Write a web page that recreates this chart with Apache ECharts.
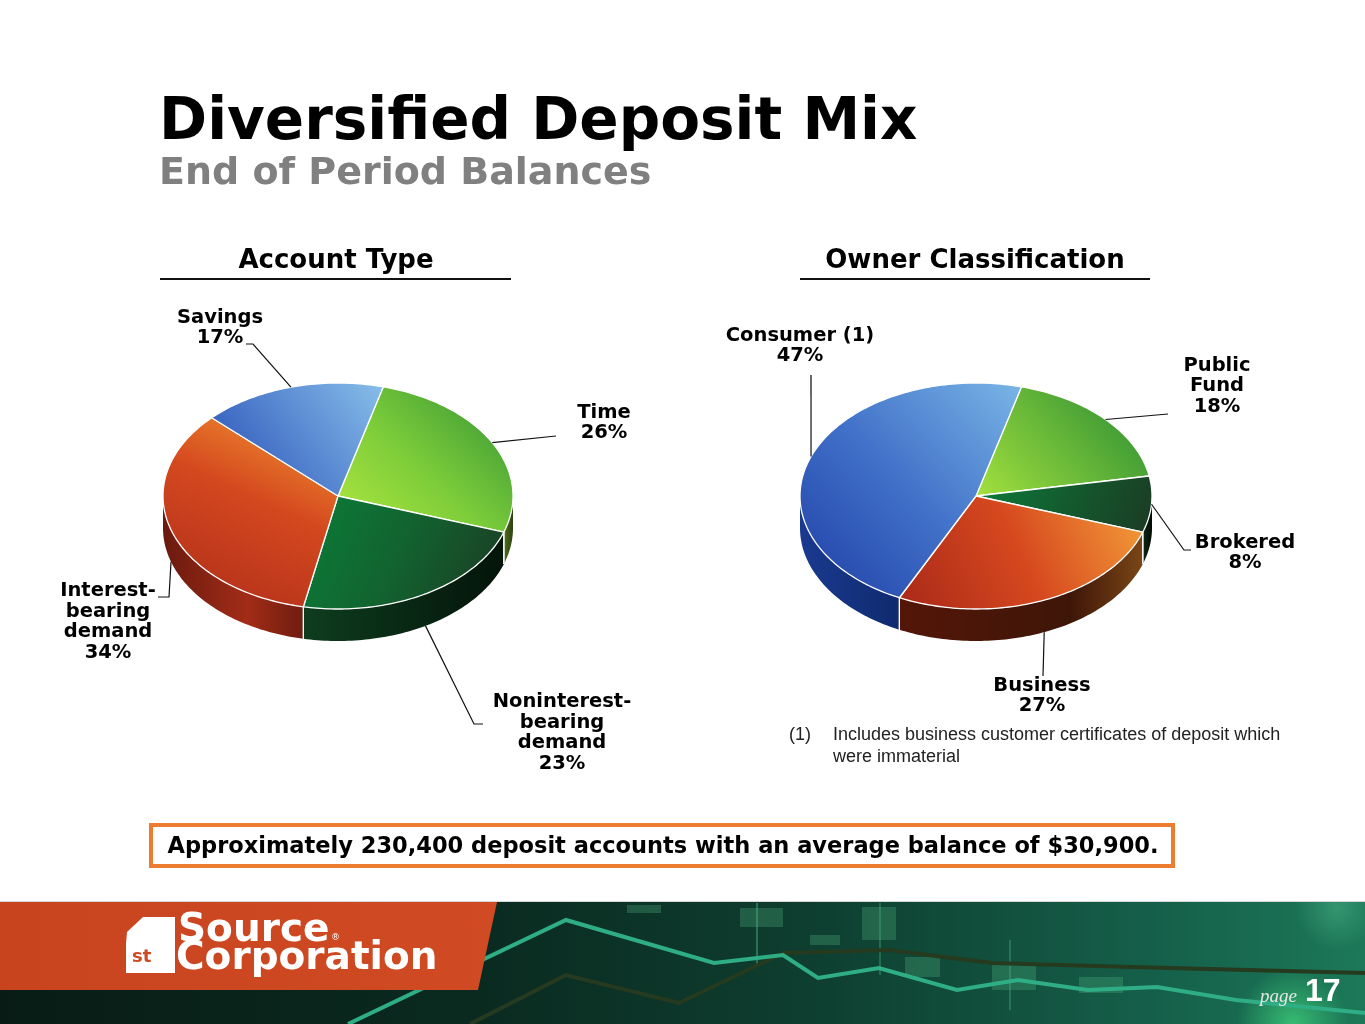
<!DOCTYPE html>
<html><head><meta charset="utf-8">
<script src="https://cdn.jsdelivr.net/npm/echarts@6/dist/echarts.min.js"></script>
<style>html,body{margin:0;padding:0;background:#fff}#c{width:1365px;height:1024px}</style>
</head><body><div id="c"></div>
<script>
// ---- data ----
const accountCategories = ['Time', 'Noninterest-\nbearing\ndemand', 'Interest-\nbearing\ndemand', 'Savings'];
const accountValues = [26, 23, 34, 17];
const ownerCategories = ['Public\nFund', 'Brokered', 'Business', 'Consumer (1)'];
const ownerValues = [18, 8, 27, 47];

// ---- layout / style (not data) ----
const LBL_FONT = 'bold 19.5px "DejaVu Sans"';
const lin = (x, y, x2, y2, stops) => ({type: 'linear', x, y, x2, y2, colorStops: stops.map((c) => ({offset: c[0], color: c[1]}))});
const rad = (x, y, r, stops) => ({type: 'radial', x, y, r, colorStops: stops.map((c) => ({offset: c[0], color: c[1]}))});

const leftCfg = {
  cx: 338, cy: 496, rx: 175, ry: 113, depth: 32, startAngle: 75,
  faces: [
    lin(0.8, 0, 0.1, 0.9, [[0, '#3f9c35'], [0.55, '#7ccc3a'], [1, '#a6e23e']]),
    lin(0, 0, 1, 0.8, [[0, '#0b7d39'], [0.5, '#12632f'], [1, '#1b3d25']]),
    lin(0.8, 0, 0.3, 1, [[0, '#f1902f'], [0.45, '#d4481f'], [1, '#b3301a']]),
    lin(1, 0, 0.1, 1, [[0, '#88bfea'], [1, '#2b53b9']])
  ],
  walls: [
    lin(0, 0, 1, 0, [[0, '#4f6f1c'], [1, '#2c4010']]),
    lin(0, 0, 1, 0, [[0, '#0e3d1e'], [1, '#04140a']]),
    lin(0, 0, 1, 0, [[0, '#6a1a0f'], [0.6, '#a22c17'], [1, '#6e1d10']]),
    lin(0, 0, 1, 0, [[0, '#1a3c94'], [1, '#112c72']])
  ],
  labels: [
    {wall: 0, pts: [[556, 436]], at: [604, 423]},
    {wall: 1, pts: [[474, 724], [483, 724]], at: [562, 733]},
    {wall: 1, pts: [[169, 597], [158, 597]], at: [108, 622]},
    {wall: 0, pts: [[253, 344], [246, 344]], at: [220, 328]}
  ]
};
const rightCfg = {
  cx: 976, cy: 496, rx: 176, ry: 113, depth: 32, startAngle: 75,
  faces: [
    lin(0.7, 0, 0, 1, [[0, '#3d9a35'], [1, '#a4e13e']]),
    lin(0, 0, 1, 1, [[0, '#0c7c39'], [1, '#1b3b24']]),
    lin(1, 0, 0, 1, [[0, '#f5a03a'], [0.5, '#d6491f'], [1, '#a92818']]),
    lin(1, 0, 0, 1, [[0, '#7ab6e6'], [0.5, '#4272c9'], [1, '#1e3ea6']])
  ],
  walls: [
    lin(0, 0, 1, 0, [[0, '#4f6f1c'], [1, '#2c4010']]),
    lin(0, 0, 1, 0, [[0, '#0c2a14'], [1, '#020a04']]),
    lin(0, 0, 1, 0, [[0, '#541609'], [0.7, '#3e1608'], [1, '#7a4616']]),
    lin(0, 0, 1, 0, [[0, '#1a3a90'], [1, '#0f2a6e']])
  ],
  labels: [
    {wall: 0, pts: [[1168, 414]], at: [1217, 386]},
    {wall: 0, pts: [[1184, 550], [1191, 550]], at: [1245, 553]},
    {wall: 1, pts: [[1043, 676]], at: [1042, 696]},
    {wall: 0, pts: [[811, 375]], at: [800, 346]}
  ]
};

function pie3d(values, names, cfg) {
  const total = values.reduce((a, b) => a + b, 0);
  const P = (t, dy) => [cfg.cx + cfg.rx * Math.cos(t), cfg.cy - cfg.ry * Math.sin(t) + (dy || 0)];
  const arc = (from, to, dy) => {
    const n = Math.max(2, Math.ceil(Math.abs(to - from) / 0.02));
    const out = [];
    for (let k = 0; k <= n; k++) out.push(P(from + (to - from) * k / n, dy));
    return out;
  };
  return {
    type: 'custom', coordinateSystem: 'none', silent: true, animation: false,
    data: values.map((v, i) => ({value: [v, i], name: names[i]})),
    renderItem: function (params, api) {
      const i = params.dataIndex;
      const v = api.value(0);
      let before = 0;
      for (let k = 0; k < i; k++) before += values[k];
      const a0 = (cfg.startAngle - before / total * 360) * Math.PI / 180;
      const a1 = a0 - v / total * 2 * Math.PI;
      const children = [];
      // front wall
      for (let k = -1; k <= 1; k++) {
        const lo = -Math.PI + 2 * Math.PI * k, hi = 2 * Math.PI * k;
        const b0 = Math.min(a0, hi), b1 = Math.max(a1, lo);
        if (b0 > b1 + 1e-6) {
          const pts = arc(b0, b1, 0).concat(arc(b1, b0, cfg.depth));
          children.push({type: 'polygon', z2: 1, shape: {points: pts}, style: {fill: cfg.walls[i], stroke: null}});
          [b0, b1].forEach(b => {
            if (b > lo + 1e-6 && b < hi - 1e-6) {
              const p = P(b, 0), q = P(b, cfg.depth);
              children.push({type: 'line', z2: 3, shape: {x1: p[0], y1: p[1], x2: q[0], y2: q[1]}, style: {stroke: '#ffffff', lineWidth: 1.2}});
            }
          });
        }
      }
      // top face
      const facePts = [[cfg.cx, cfg.cy]].concat(arc(a0, a1, 0));
      children.push({type: 'polygon', z2: 2, shape: {points: facePts}, style: {fill: cfg.faces[i], stroke: '#ffffff', lineWidth: 1.3, lineJoin: 'round'}});
      // leader line + label
      const L = cfg.labels[i];
      const mid = (a0 + a1) / 2;
      const anchor = P(mid, L.wall * cfg.depth);
      children.push({type: 'polyline', z2: 4, shape: {points: [anchor].concat(L.pts)}, style: {stroke: '#111', lineWidth: 1.2, fill: null}});
      children.push({type: 'text', z2: 5, style: {
        text: names[i] + '\n' + v + '%', x: L.at[0], y: L.at[1], font: LBL_FONT, fill: '#000',
        align: 'center', verticalAlign: 'middle', textAlign: 'center', textVerticalAlign: 'middle', lineHeight: 20.5
      }});
      return {type: 'group', children: children};
    }
  };
}

function txt(text, x, y, font, fill, align) {
  return {type: 'text', style: {text, x, y, font, fill, align: align || 'left', verticalAlign: 'middle', textAlign: align || 'left', textVerticalAlign: 'middle'}};
}

const candle = 'rgba(80,180,130,0.3)';
const footer = [
  {type: 'rect', shape: {x: 0, y: 902, width: 1365, height: 122}, style: {fill: lin(0, 0, 1, 0, [[0, '#081c15'], [0.35, '#0a2a20'], [0.6, '#0e3f30'], [0.85, '#15604a'], [1, '#1c7858']])}},
  {type: 'rect', shape: {x: 1185, y: 930, width: 180, height: 94}, style: {fill: rad(0.6, 1, 0.6, [[0, 'rgba(60,200,120,0.85)'], [1, 'rgba(60,200,120,0)']])}},
  {type: 'rect', shape: {x: 1225, y: 902, width: 140, height: 60}, style: {fill: rad(0.8, 0.1, 0.7, [[0, 'rgba(70,170,130,0.6)'], [1, 'rgba(70,170,130,0)']])}},
  {type: 'rect', shape: {x: 627, y: 905, width: 34, height: 8}, style: {fill: candle}},
  {type: 'rect', shape: {x: 740, y: 908, width: 43, height: 19}, style: {fill: candle}},
  {type: 'rect', shape: {x: 862, y: 907, width: 34, height: 33}, style: {fill: candle}},
  {type: 'rect', shape: {x: 905, y: 957, width: 35, height: 20}, style: {fill: candle}},
  {type: 'rect', shape: {x: 992, y: 963, width: 44, height: 27}, style: {fill: candle}},
  {type: 'rect', shape: {x: 1079, y: 977, width: 44, height: 16}, style: {fill: candle}},
  {type: 'rect', shape: {x: 810, y: 935, width: 30, height: 10}, style: {fill: candle}},
  {type: 'line', shape: {x1: 757, y1: 903, x2: 757, y2: 965}, style: {stroke: 'rgba(80,180,130,0.45)', lineWidth: 2}},
  {type: 'line', shape: {x1: 880, y1: 903, x2: 880, y2: 975}, style: {stroke: 'rgba(80,180,130,0.35)', lineWidth: 2}},
  {type: 'line', shape: {x1: 1010, y1: 940, x2: 1010, y2: 1010}, style: {stroke: 'rgba(80,180,130,0.35)', lineWidth: 2}},
  {type: 'polyline', shape: {points: [[470, 1024], [566, 975], [679, 1003], [783, 953], [888, 950], [992, 963], [1131, 967], [1365, 973]]}, style: {stroke: '#263a20', lineWidth: 4, fill: null}},
  {type: 'polyline', shape: {points: [[348, 1024], [566, 920], [714, 963], [783, 955], [818, 978], [879, 968], [957, 990], [1018, 980], [1088, 990], [1157, 987], [1236, 1000], [1365, 1013]]}, style: {stroke: '#2fae86', lineWidth: 4, fill: null}},
  {type: 'polygon', shape: {points: [[0, 902], [497, 902], [478, 990], [0, 990]]}, style: {fill: lin(0, 0, 1, 0, [[0, '#c8441f'], [1, '#d04b23']])}},
  {type: 'line', shape: {x1: 0, y1: 901.5, x2: 1365, y2: 901.5}, style: {stroke: '#d8d8d8', lineWidth: 1}},
  {type: 'polygon', shape: {points: [[127, 932], [143, 917], [175, 917], [175, 973], [126, 973], [126, 944]]}, style: {fill: '#ffffff'}},
  txt('st', 132, 957, 'bold 18px "DejaVu Sans"', '#cd4a22'),
  txt('Source', 178, 931, 'bold 39px "DejaVu Sans"', '#ffffff'),
  txt('®', 331, 938, '9px "DejaVu Sans"', '#ffffff'),
  txt('Corporation', 176, 959, 'bold 39px "DejaVu Sans"', '#ffffff'),
  txt('page', 1297, 997, 'italic 19px "Liberation Serif"', '#e6e6e6', 'right'),
  txt('17', 1305, 992, 'bold 32px "Liberation Sans"', '#ffffff')
];

const header = [
  txt('Diversified Deposit Mix', 159, 124, 'bold 58px "DejaVu Sans"', '#000000'),
  txt('End of Period Balances', 159, 174, 'bold 38px "DejaVu Sans"', '#808080'),
  txt('Account Type', 336, 261, 'bold 26px "DejaVu Sans"', '#000000', 'center'),
  txt('Owner Classification', 975, 261, 'bold 26px "DejaVu Sans"', '#000000', 'center'),
  {type: 'line', shape: {x1: 160, y1: 279, x2: 511, y2: 279}, style: {stroke: '#111', lineWidth: 2}},
  {type: 'line', shape: {x1: 800, y1: 279, x2: 1150, y2: 279}, style: {stroke: '#111', lineWidth: 2}},
  txt('(1)', 789, 735, '18px "Liberation Sans"', '#222222'),
  txt('Includes business customer certificates of deposit which', 833, 735, '18px "Liberation Sans"', '#222222'),
  txt('were immaterial', 833, 757, '18px "Liberation Sans"', '#222222'),
  {type: 'rect', shape: {x: 151, y: 825, width: 1022, height: 41}, style: {fill: '#ffffff', stroke: '#ec7c30', lineWidth: 4}},
  txt('Approximately 230,400 deposit accounts with an average balance of $30,900.', 663, 847, 'bold 22.5px "DejaVu Sans"', '#000000', 'center')
];

const chart = echarts.init(document.getElementById('c'), null, {renderer: 'canvas'});
chart.setOption({
  backgroundColor: '#ffffff',
  animation: false,
  graphic: {elements: header.concat(footer)},
  series: [
    pie3d(accountValues, accountCategories, leftCfg),
    pie3d(ownerValues, ownerCategories, rightCfg)
  ]
});
</script></body></html>
